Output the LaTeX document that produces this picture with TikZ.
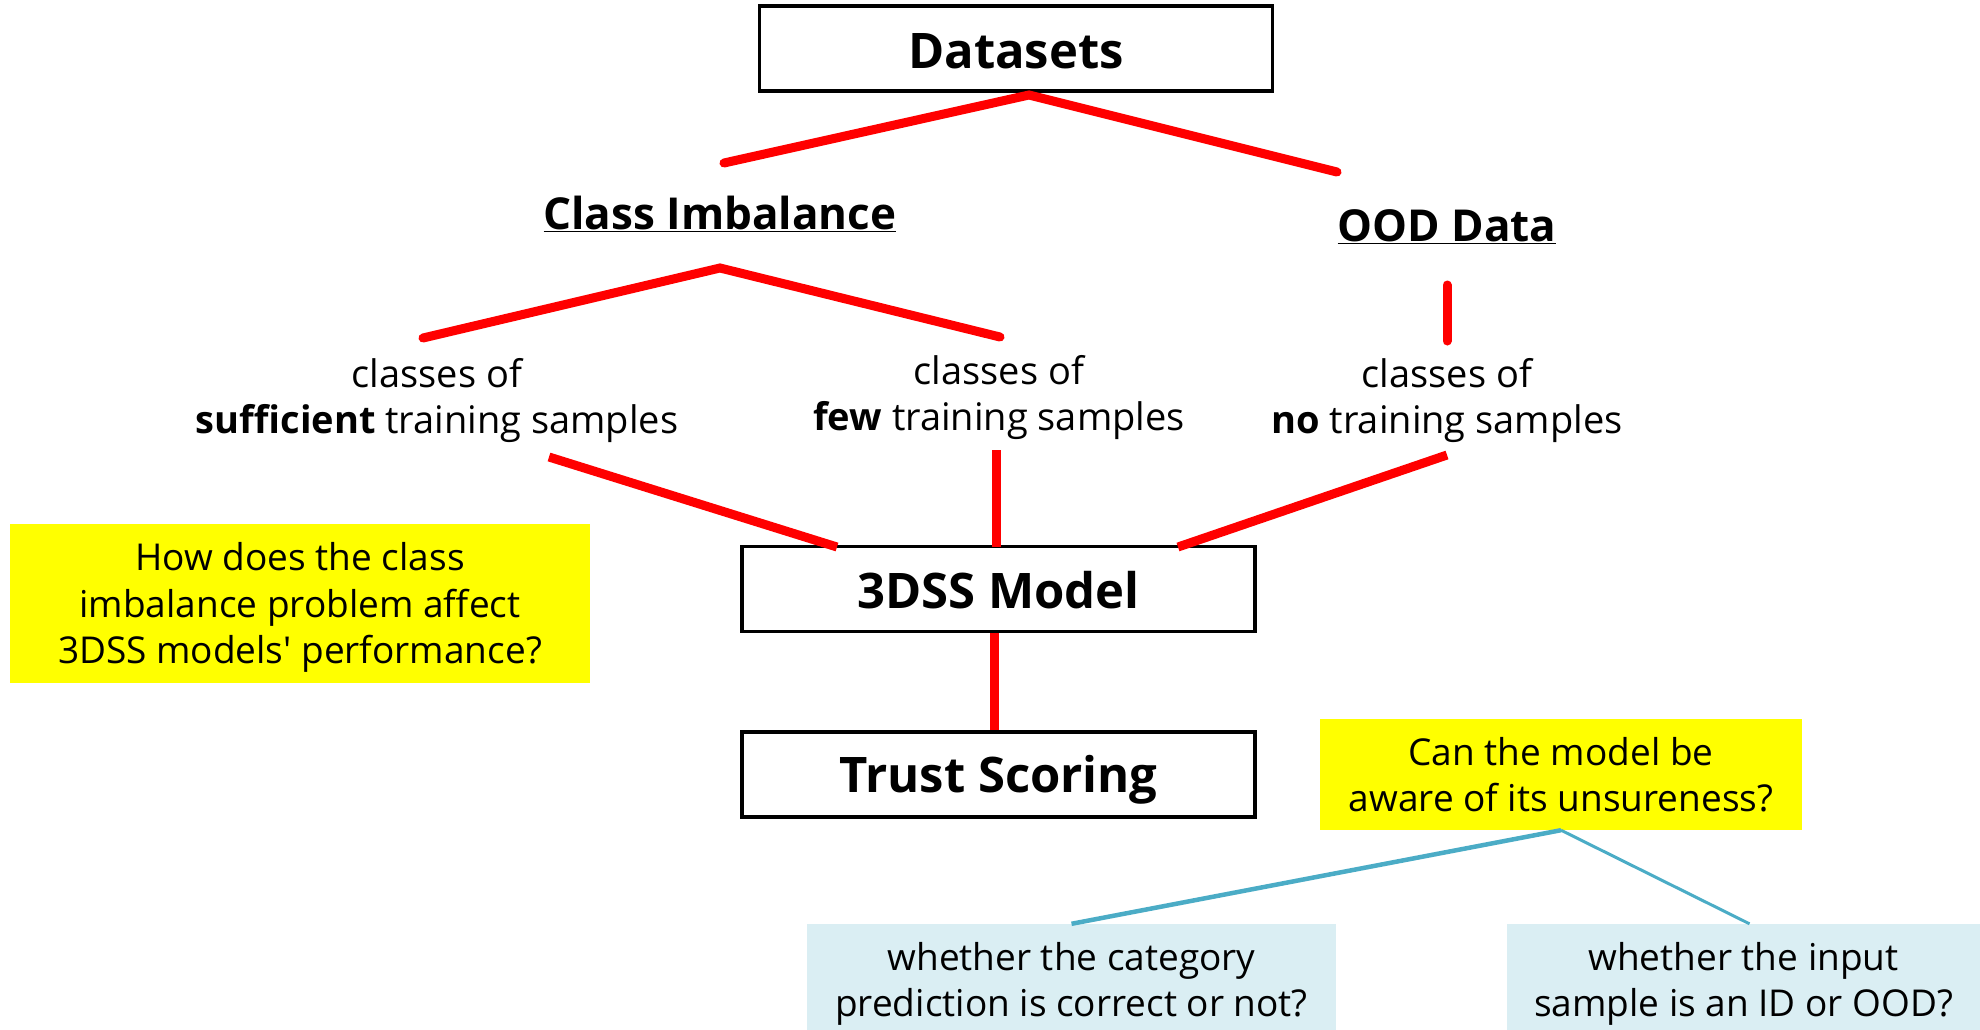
\documentclass[tikz,border=0pt]{standalone}
\usepackage{fontspec}
\setmainfont{Open Sans}[Ligatures=TeXOff]
\definecolor{redline}{RGB}{255,0,0}
\definecolor{blueline}{RGB}{75,172,198}
\definecolor{lightblue}{RGB}{218,238,243}
\definecolor{qyellow}{RGB}{255,255,0}
\newcommand{\lowerby}[1]{\rule{0pt}{#1}}
\tikzset{
  mainbox/.style={draw=black, line width=3.5pt, minimum width=513pt, minimum height=85pt, font=\fontsize{49}{56}\selectfont\bfseries, inner sep=0pt},
  title/.style={font=\fontsize{44}{50}\selectfont\bfseries, inner sep=0pt},
  lbl/.style={font=\fontsize{38}{46}\selectfont, align=center, inner sep=0pt},
  qbox/.style={fill=qyellow, font=\fontsize{37}{46.5}\selectfont, align=center, inner sep=0pt},
  ansbox/.style={fill=lightblue, font=\fontsize{37}{46}\selectfont, align=center, inner sep=0pt},
  redc/.style={draw=redline, line width=9pt, line cap=round},
  bluec/.style={draw=blueline, line width=4pt},
}
\begin{document}
\begin{tikzpicture}[x=1pt,y=-1pt]
\useasboundingbox (0,0) rectangle (1980,1030);
% boxes
\node[mainbox] (ds) at (1016,48.5) {\lowerby{40pt}Datasets};
\node[mainbox] (model) at (998.5,589) {\lowerby{39pt}3DSS Model};
\node[mainbox] (trust) at (998.5,774.5) {\lowerby{47pt}Trust Scoring};
% titles
\node[title] (ci) at (720,214) {\underline{Class Imbalance}};
\node[title] (ood) at (1447,227) {\underline{OOD Data}};
% labels
\node[lbl] (suf) at (437,401) {classes of\\\textbf{sufficient} training samples};
\node[lbl] (few) at (999,397.5) {classes of\\\textbf{few} training samples};
\node[lbl] (no) at (1447,401) {classes of\\\textbf{no} training samples};
% questions
\node[qbox, minimum width=580pt, minimum height=159pt] (q1) at (300,603.5) {\lowerby{36pt}How does the class\\imbalance problem affect\\3DSS models' performance?};
\node[qbox, minimum width=482pt, minimum height=111pt] (q2) at (1561,774.5) {Can the model be\\aware of its unsureness?};
\node[ansbox, minimum width=529pt, minimum height=106pt] (a1) at (1071.5,977) {\lowerby{42pt}whether the category\\prediction is correct or not?};
\node[ansbox, minimum width=473pt, minimum height=106pt] (a2) at (1743.5,977) {\lowerby{42pt}whether the input\\sample is an ID or OOD?};
% coordinates
\coordinate (dsapex) at (1029,95);
\coordinate (ciL) at (724,163);
\coordinate (oodL) at (1337,172);
\coordinate (ciapex) at (720,268);
\coordinate (sufT) at (423,338);
\coordinate (fewT) at (1000,337);
\coordinate (noT) at (1447,285);
\coordinate (noB) at (1447,341);
\coordinate (sufB) at (549,457);
\coordinate (fewB) at (996,450);
\coordinate (noBB) at (1447,455);
\coordinate (mL) at (837,547);
\coordinate (mM) at (996,547);
\coordinate (mR) at (1178,547);
% connectors
\draw[redc] (ciL) -- (dsapex) -- (oodL);
\draw[redc] (sufT) -- (ciapex) -- (fewT);
\draw[redc] (noT) -- (noB);
\draw[redc, line cap=butt] (sufB) -- (mL);
\draw[redc, line cap=butt] (fewB) -- (mM);
\draw[redc, line cap=butt] (noBB) -- (mR);
\draw[redc, line cap=butt] (model.south -| 994,0) -- (trust.north -| 994,0);
\draw[bluec, line width=4.5pt] (q2.south) -- (a1.north);
\draw[bluec, line width=3pt] (q2.south) -- ([xshift=6pt]a2.north);
\end{tikzpicture}
\end{document}
